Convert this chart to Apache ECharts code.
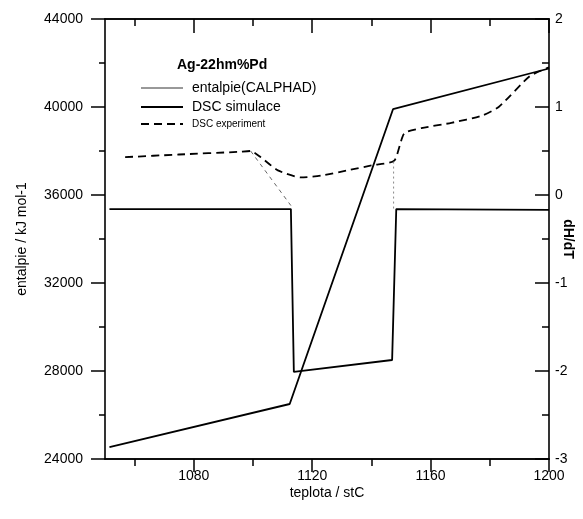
<!DOCTYPE html>
<html><head><meta charset="utf-8">
<script src="https://cdn.jsdelivr.net/npm/echarts@6/dist/echarts.min.js"></script>
<style>html,body{margin:0;padding:0;background:#fff}#c{width:583px;height:519px}</style>
</head><body><div id="c"></div>
<script>
// ---- data ----
const titleText = 'Ag-22hm%Pd';
const seriesNames = ['entalpie(CALPHAD)', 'DSC simulace', 'DSC experiment'];
const xMajorTicks = [1080, 1120, 1160, 1200];
const xMinorTicks = [1060, 1100, 1140, 1180];
// enthalpy (left axis) [T, H]
const enthalpyT = [1051.5, 1112.4, 1147.3, 1200];
const enthalpyH = [24545, 26500, 39900, 41750];
// DSC simulation (right axis)
const simT = [1051.5, 1112.8, 1113.8, 1147.0, 1148.4, 1200];
const simV = [-0.16, -0.16, -2.01, -1.875, -0.16, -0.17];
// DSC experiment (right axis)
const expT = [1056.8, 1075, 1094.8, 1099.2, 1102.6, 1108.4, 1116.2, 1123, 1132, 1140.6, 1147.7, 1151.1, 1156.9, 1167, 1177.2, 1183, 1193.5, 1200];
const expV = [0.43, 0.46, 0.49, 0.50, 0.43, 0.28, 0.20, 0.22, 0.28, 0.34, 0.39, 0.70, 0.76, 0.82, 0.90, 1.0, 1.35, 1.45];
// thin connector lines (right axis)
const conn1T = [1099.2, 1112.8];
const conn1V = [0.50, -0.12];
const conn2T = [1147.5, 1147.5];
const conn2V = [0.38, -0.16];

const zip = (a, b) => a.map((v, i) => [v, b[i]]);
const FONT = 'Liberation Sans, Arial, sans-serif';
const chart = echarts.init(document.getElementById('c'));
const grid = {left: 105, right: 34, top: 19, bottom: 60, outerBoundsMode: 'none', containLabel: false};
const axLine = {show: true, onZero: false, lineStyle: {color: '#000', width: 1.6}};
function xAx(pos, ticks, len, inside, labels, name) {
  return {
    type: 'value', min: 1050, max: 1200, position: pos,
    axisLine: axLine,
    axisTick: {show: true, customValues: ticks, length: len, inside: inside, lineStyle: {color: '#000', width: 1.5}},
    axisLabel: labels ? {show: true, customValues: ticks, color: '#000', fontSize: 14, fontFamily: FONT, margin: 10, formatter: v => String(v)} : {show: false},
    splitLine: {show: false},
    name: name || '', nameLocation: 'middle', nameGap: 27, nameMoveOverlap: false,
    nameTextStyle: {color: '#000', fontSize: 14, fontFamily: FONT}
  };
}
chart.setOption({
  animation: false,
  backgroundColor: '#fff',
  grid: grid,
  title: {text: titleText, left: 172, top: 53, textStyle: {fontSize: 14, fontWeight: 'bold', color: '#000', fontFamily: FONT}},
  legend: {
    orient: 'vertical', left: 135, top: 76, itemWidth: 42, itemHeight: 10, itemGap: 5,
    itemStyle: {opacity: 0},
    data: [
      {name: seriesNames[0], lineStyle: {width: 1, color: '#333'}},
      {name: seriesNames[1]},
      {name: seriesNames[2]}
    ],
    formatter: n => n === 'DSC experiment' ? '{s|' + n + '}' : '{b|' + n + '}',
    textStyle: {color: '#000', fontFamily: FONT, padding: [0, 0, 0, 4],
      rich: {b: {fontSize: 14, fontFamily: FONT, color: '#000'}, s: {fontSize: 10, fontFamily: FONT, color: '#000'}}}
  },
  xAxis: [
    xAx('bottom', xMajorTicks, 13, false, true, 'teplota / stC'),
    xAx('bottom', xMinorTicks, 7, false, false),
    xAx('top', xMajorTicks, 14, true, false),
    xAx('top', xMinorTicks, 7, true, false)
  ],
  yAxis: [
    {type: 'value', min: 24000, max: 44000, interval: 4000, position: 'left',
     axisLine: axLine,
     axisTick: {show: true, length: 14, lineStyle: {color: '#000', width: 1.5}},
     minorTick: {show: true, splitNumber: 2, length: 6, lineStyle: {color: '#000', width: 1.5}},
     axisLabel: {color: '#000', fontSize: 14, fontFamily: FONT, margin: 22, formatter: v => String(v)},
     splitLine: {show: false},
     name: 'entalpie / kJ mol-1', nameLocation: 'middle', nameGap: 76, nameMoveOverlap: false,
     nameTextStyle: {color: '#000', fontSize: 14, fontFamily: FONT}},
    {type: 'value', min: -3, max: 2, interval: 1, position: 'right',
     axisLine: axLine,
     axisTick: {show: true, inside: true, length: 14, lineStyle: {color: '#000', width: 1.5}},
     minorTick: {show: true, splitNumber: 2, length: 7, lineStyle: {color: '#000', width: 1.5}},
     axisLabel: {color: '#000', fontSize: 14, fontFamily: FONT, margin: 6},
     splitLine: {show: false},
     name: 'dH/dT', nameLocation: 'middle', nameGap: 12, nameRotate: -90, nameMoveOverlap: false,
     nameTextStyle: {color: '#000', fontSize: 14, fontWeight: 'bold', fontFamily: FONT}}
  ],
  series: [
    {name: seriesNames[0], type: 'line', xAxisIndex: 0, yAxisIndex: 0, symbol: 'none',
     data: zip(enthalpyT, enthalpyH), lineStyle: {color: '#000', width: 1.8}, itemStyle: {color: '#000'}},
    {name: seriesNames[1], type: 'line', xAxisIndex: 0, yAxisIndex: 1, symbol: 'none',
     data: zip(simT, simV), lineStyle: {color: '#000', width: 1.8}, itemStyle: {color: '#000'}},
    {name: seriesNames[2], type: 'line', xAxisIndex: 0, yAxisIndex: 1, symbol: 'none', smooth: 0.2,
     data: zip(expT, expV), lineStyle: {color: '#000', width: 1.8, type: [8, 5]}, itemStyle: {color: '#000'}},
    {name: 'c1', type: 'line', xAxisIndex: 0, yAxisIndex: 1, symbol: 'none',
     data: zip(conn1T, conn1V), lineStyle: {color: '#666', width: 1, type: [4, 4]}},
    {name: 'c2', type: 'line', xAxisIndex: 0, yAxisIndex: 1, symbol: 'none',
     data: zip(conn2T, conn2V), lineStyle: {color: '#888', width: 1, type: [2, 3]}}
  ]
});
</script></body></html>
